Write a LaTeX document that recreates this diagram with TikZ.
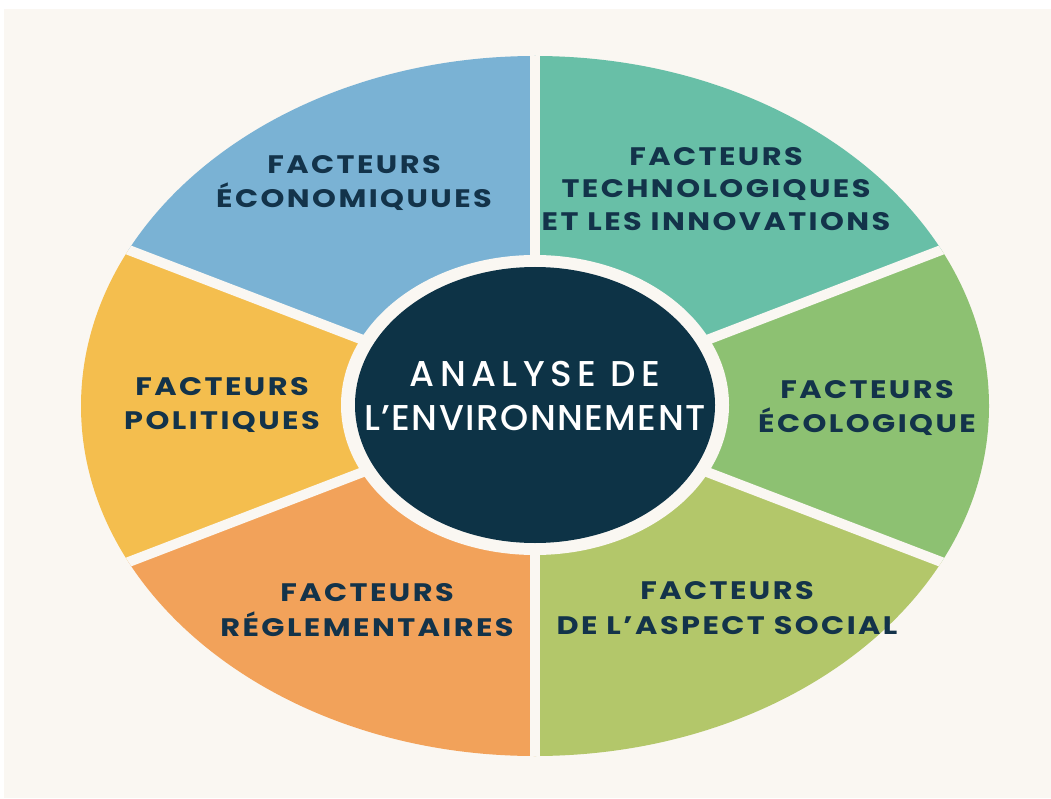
\documentclass[tikz,border=0pt]{standalone}
\usepackage{fontspec}
\setmainfont{Poppins}
\newfontfamily\facteurfont{Poppins Bold}[LetterSpace=8]
\newfontfamily\titrefont{Poppins Medium}[LetterSpace=4]
\usepackage{tikz}

\definecolor{fond}{HTML}{FAF7F2}
\definecolor{texte}{HTML}{13334A}
\definecolor{nuit}{HTML}{0D3346}
\definecolor{bleu}{HTML}{7AB2D4}
\definecolor{turquoise}{HTML}{68BFA7}
\definecolor{vert}{HTML}{8DC172}
\definecolor{olive}{HTML}{B3C76A}
\definecolor{orange}{HTML}{F2A25A}
\definecolor{jaune}{HTML}{F4BE4E}

\begin{document}
\begin{tikzpicture}[x=0.025cm,y=0.025cm]
		\tikzstyle{facteur}=[text=texte,align=center,inner sep=0pt,xscale=1.2,transform shape,font=\facteurfont\fontsize{18}{24.5}\selectfont]
		\tikzstyle{titre}=[text=white,align=center,inner sep=0pt,font=\titrefont\fontsize{25.5}{31.3}\selectfont]
		\tikzstyle{separation}=[draw=fond,line width=0.25cm]
		\fill[white] (0,0) rectangle (1051,798);
		\fill[fond] (4,0) rectangle (1051,789);
		\useasboundingbox (0,0) rectangle (1051,798);
		\coordinate (O) at (535,392);
		\begin{scope}
			\clip (O) ellipse [x radius=454, y radius=350];
			\foreach \a/\b/\c in {90/159/bleu,159/201/jaune,201/270/orange,270/339/olive,339/381/vert,21/90/turquoise}
				\fill[\c] (O) -- +(\a:1000) -- +(\b:1000) -- cycle;
			\foreach \a in {21,90,159,201,270,339}
				\draw[separation] (O) -- +(\a:600);
		\end{scope}
		\fill[fond] (535,393) ellipse [x radius=194, y radius=150];
		\fill[nuit] (535,393) ellipse [x radius=180, y radius=138];
		\node[titre] (analyse) at (535,402) {{\addfontfeature{LetterSpace=15}ANALYSE DE}\\L’ENVIRONNEMENT};
		\node[facteur] (eco) at (354,615) {FACTEURS\\ÉCONOMIQUUES};
		\node[facteur,font=\facteurfont\fontsize{18}{23}\selectfont] (tech) at (716,609) {FACTEURS\\TECHNOLOGIQUES\\ET LES INNOVATIONS};
		\node[facteur] (pol) at (222,393) {FACTEURS\\POLITIQUES};
		\node[facteur] (ecol) at (867,390) {FACTEURS\\ÉCOLOGIQUE};
		\node[facteur] (regl) at (367,188) {FACTEURS\\RÉGLEMENTAIRES};
		\node[facteur] (soc) at (727,190) {FACTEURS\\DE L’ASPECT SOCIAL};
	\end{tikzpicture}
\end{document}
